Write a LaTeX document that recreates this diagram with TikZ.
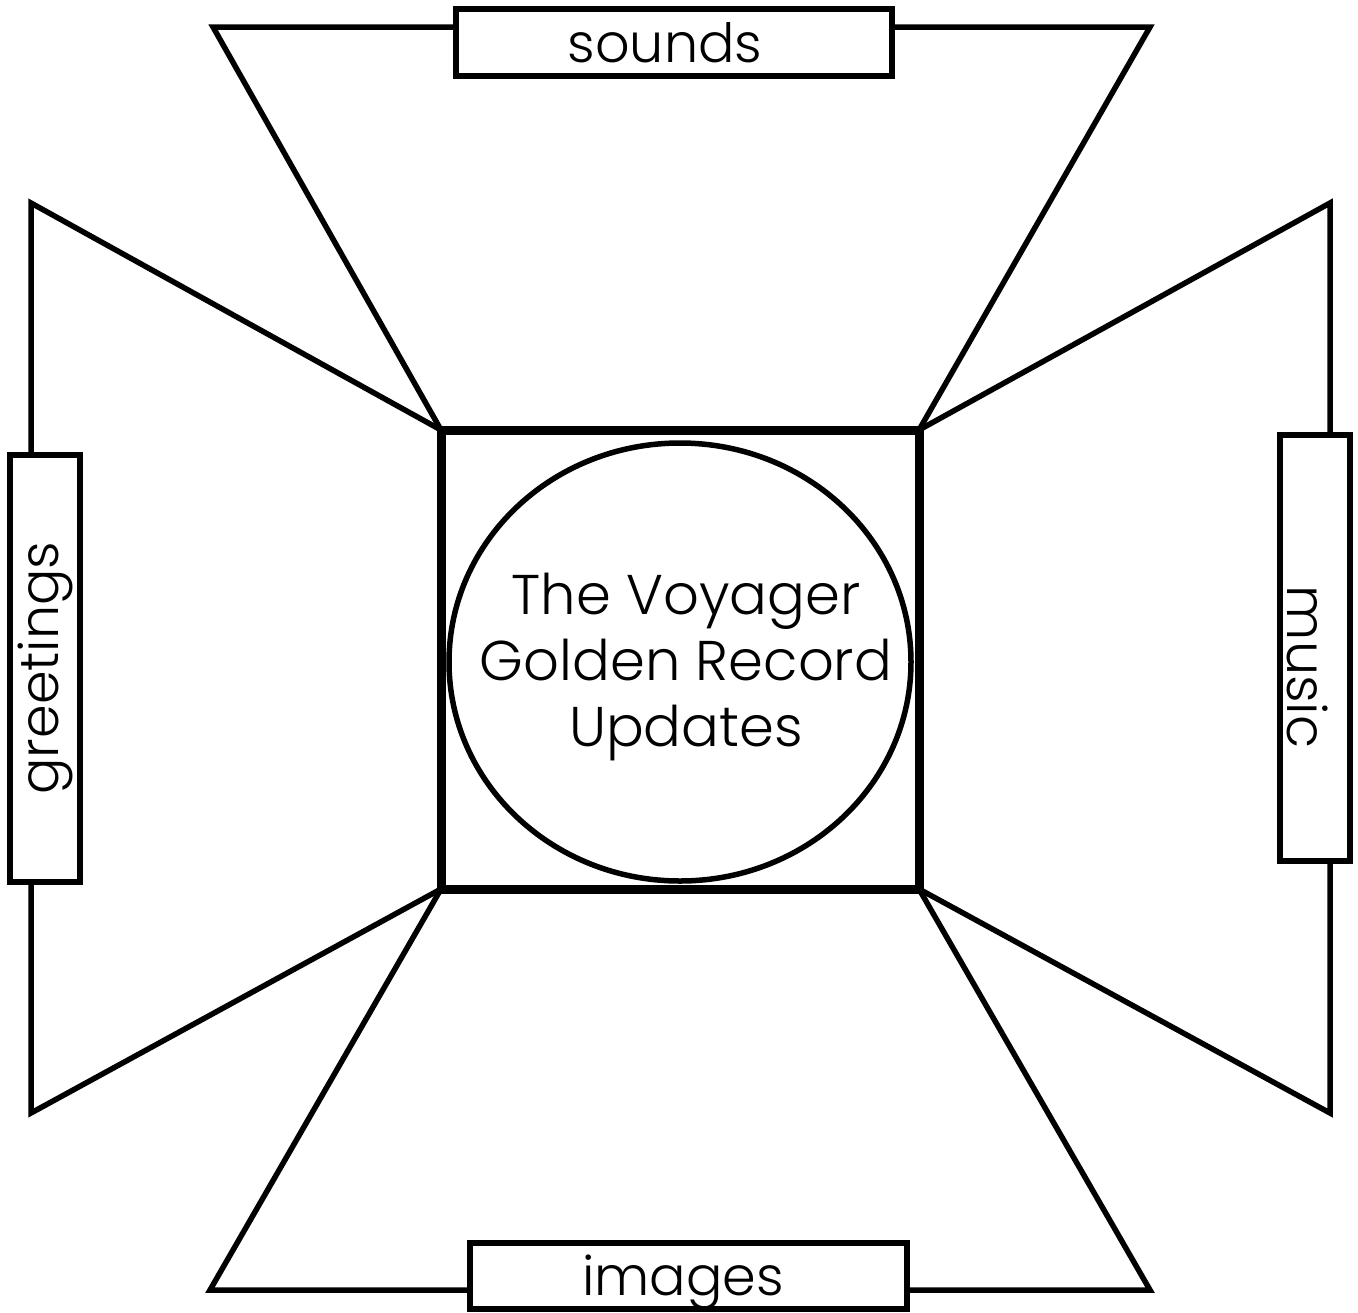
\documentclass[tikz,border=0pt]{standalone}
\usepackage{fontspec}
\setmainfont{Poppins Light}
\usetikzlibrary{shapes.geometric, positioning, calc}

\begin{document}
\begin{tikzpicture}[
    x=0.5pt, y=-0.5pt,
    side/.style={draw, line width=2.75pt, line join=miter},
    tab/.style={rectangle, draw, line width=2.75pt, inner sep=0pt, outer sep=0pt},
    frame/.style={rectangle, draw, line width=4.5pt, inner sep=0pt, outer sep=0pt, minimum width=239pt, minimum height=229.5pt},
    disc/.style={ellipse, draw, line width=2.75pt, inner sep=0pt, minimum width=231pt, minimum height=219pt},
    title/.style={align=center, inner sep=0pt, font=\fontsize{28}{33}\selectfont},
    lbl/.style={font=\fontsize{27}{32}\selectfont, inner sep=0pt}
]
\useasboundingbox[fill=white] (0,0) rectangle (1358,1312);

% centre
\node[frame] (sq) at (680,659.5) {};

% tabs
\node[tab, minimum width=218pt, minimum height=33.5pt] (snd) at (674,42.5) {};
\node[tab, minimum width=35pt, minimum height=213.5pt] (grt) at (45,668.5) {};
\node[tab, minimum width=35pt, minimum height=213pt] (mus) at (1315,648) {};
\node[tab, minimum width=218.5pt, minimum height=33pt] (img) at (688.5,1276) {};

% outer corners
\coordinate (t1) at (213,27);
\coordinate (t2) at (1150,27);
\coordinate (l1) at (31,203);
\coordinate (l2) at (31,1113);
\coordinate (r1) at (1330,203);
\coordinate (r2) at (1330,1113);
\coordinate (b1) at (210,1290);
\coordinate (b2) at (1150,1290);

% flaps
\draw[side] (sq.north west) -- (t1) -- (t1 -| snd.west);
\draw[side] (snd.east |- t2) -- (t2) -- (sq.north east);
\draw[side] (sq.north west) -- (l1) -- (l1 |- grt.north);
\draw[side] (l2 |- grt.south) -- (l2) -- (sq.south west);
\draw[side] (sq.north east) -- (r1) -- (r1 |- mus.north);
\draw[side] (r2 |- mus.south) -- (r2) -- (sq.south east);
\draw[side] (sq.south west) -- (b1) -- (b1 -| img.west);
\draw[side] (img.east |- b2) -- (b2) -- (sq.south east);

\node[frame] at (sq.center) {};
\node[disc] (rec) at (680,662) {};
\node[title] (rectxt) at (686,667) {The Voyager\\Golden Record\\Updates};

% labels
\node[lbl, anchor=base] (sndtxt) at (665,62) {sounds};
\node[lbl, anchor=base] (imgtxt) at (683,1295) {images};
\node[lbl, rotate=90] (grttxt) at (45,668) {greetings};
\node[lbl, rotate=-90] (mustxt) at (1308,667) {music};
\end{tikzpicture}
\end{document}
